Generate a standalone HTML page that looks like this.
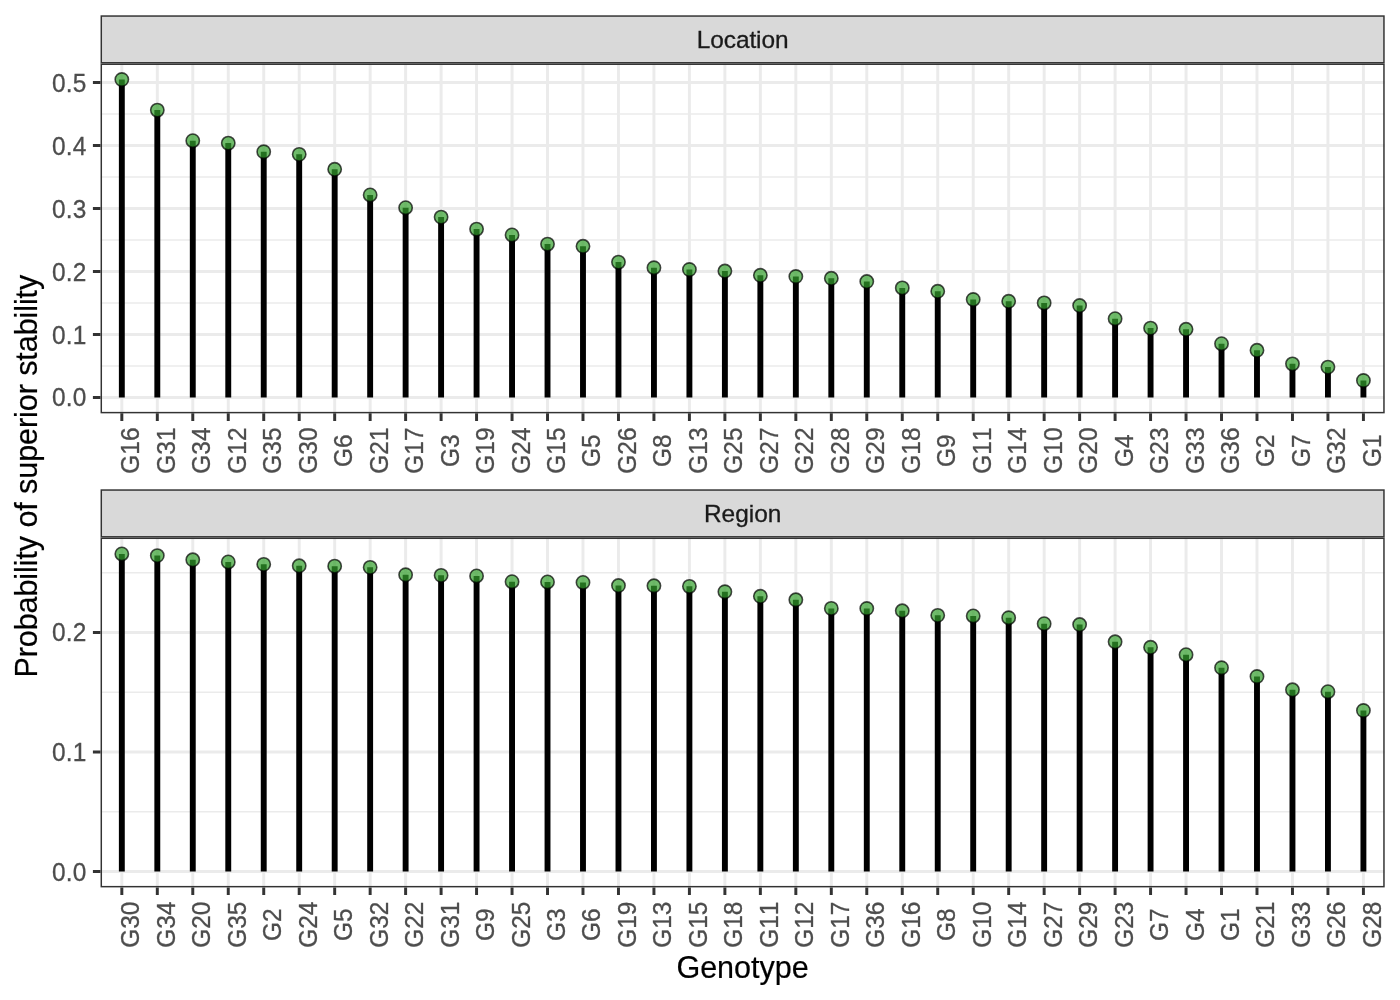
<!DOCTYPE html>
<html><head><meta charset="utf-8"><title>Probability of superior stability</title>
<style>html,body{margin:0;padding:0;background:#fff}body{width:1400px;height:1000px;overflow:hidden}svg{display:block;will-change:transform}text{font-family:"Liberation Sans",sans-serif;font-kerning:none}</style>
</head><body>
<svg width="1400" height="1000" viewBox="0 0 1400 1000">
<rect x="0" y="0" width="1400" height="1000" fill="#ffffff"/>
<clipPath id="cp1"><rect x="100.55" y="63.5" width="1284.15" height="349.85"/></clipPath>
<g clip-path="url(#cp1)">
<rect x="100.55" y="63.5" width="1284.15" height="349.85" fill="#ffffff"/>
<path d="M100.55 365.27H1384.7V366.75H100.55ZM100.55 302.29H1384.7V303.77H100.55ZM100.55 239.31H1384.7V240.79H100.55ZM100.55 176.33H1384.7V177.81H100.55ZM100.55 113.35H1384.7V114.83H100.55Z" fill="#ebebeb"/>
<path d="M100.55 396.02H1384.7V398.98H100.55ZM100.55 333.04H1384.7V336H100.55ZM100.55 270.06H1384.7V273.02H100.55ZM100.55 207.08H1384.7V210.04H100.55ZM100.55 144.1H1384.7V147.06H100.55ZM100.55 81.12H1384.7V84.08H100.55Z" fill="#ebebeb"/>
<path d="M120.35 63.5H123.31V413.35H120.35ZM155.83 63.5H158.79V413.35H155.83ZM191.3 63.5H194.26V413.35H191.3ZM226.78 63.5H229.74V413.35H226.78ZM262.25 63.5H265.21V413.35H262.25ZM297.72 63.5H300.68V413.35H297.72ZM333.2 63.5H336.16V413.35H333.2ZM368.67 63.5H371.63V413.35H368.67ZM404.14 63.5H407.1V413.35H404.14ZM439.62 63.5H442.58V413.35H439.62ZM475.09 63.5H478.05V413.35H475.09ZM510.57 63.5H513.53V413.35H510.57ZM546.04 63.5H549V413.35H546.04ZM581.51 63.5H584.47V413.35H581.51ZM616.99 63.5H619.95V413.35H616.99ZM652.46 63.5H655.42V413.35H652.46ZM687.93 63.5H690.89V413.35H687.93ZM723.41 63.5H726.37V413.35H723.41ZM758.88 63.5H761.84V413.35H758.88ZM794.36 63.5H797.32V413.35H794.36ZM829.83 63.5H832.79V413.35H829.83ZM865.3 63.5H868.26V413.35H865.3ZM900.78 63.5H903.74V413.35H900.78ZM936.25 63.5H939.21V413.35H936.25ZM971.72 63.5H974.68V413.35H971.72ZM1007.2 63.5H1010.16V413.35H1007.2ZM1042.67 63.5H1045.63V413.35H1042.67ZM1078.15 63.5H1081.11V413.35H1078.15ZM1113.62 63.5H1116.58V413.35H1113.62ZM1149.09 63.5H1152.05V413.35H1149.09ZM1184.57 63.5H1187.53V413.35H1184.57ZM1220.04 63.5H1223V413.35H1220.04ZM1255.51 63.5H1258.47V413.35H1255.51ZM1290.99 63.5H1293.95V413.35H1290.99ZM1326.46 63.5H1329.42V413.35H1326.46ZM1361.94 63.5H1364.9V413.35H1361.94Z" fill="#ebebeb"/>
<path d="M118.88 79.49H124.78V397.5H118.88ZM154.36 110.11H160.26V397.5H154.36ZM189.83 140.72H195.73V397.5H189.83ZM225.31 143.12H231.21V397.5H225.31ZM260.78 151.75H266.68V397.5H260.78ZM296.25 154.33H302.15V397.5H296.25ZM331.73 169.32H337.63V397.5H331.73ZM367.2 194.97H373.1V397.5H367.2ZM402.67 207.69H408.57V397.5H402.67ZM438.15 217.08H444.05V397.5H438.15ZM473.62 229.11H479.52V397.5H473.62ZM509.1 234.91H515V397.5H509.1ZM544.57 244.11H550.47V397.5H544.57ZM580.04 246.31H585.94V397.5H580.04ZM615.52 262.12H621.42V397.5H615.52ZM650.99 267.73H656.89V397.5H650.99ZM686.46 269.5H692.36V397.5H686.46ZM721.94 271.07H727.84V397.5H721.94ZM757.41 275.29H763.31V397.5H757.41ZM792.89 276.49H798.79V397.5H792.89ZM828.36 278.32H834.26V397.5H828.36ZM863.83 281.53H869.73V397.5H863.83ZM899.31 287.89H905.21V397.5H899.31ZM934.78 291.29H940.68V397.5H934.78ZM970.25 299.48H976.15V397.5H970.25ZM1005.73 301.31H1011.63V397.5H1005.73ZM1041.2 302.89H1047.1V397.5H1041.2ZM1076.68 305.53H1082.58V397.5H1076.68ZM1112.15 318.7H1118.05V397.5H1112.15ZM1147.62 328.09H1153.52V397.5H1147.62ZM1183.1 329.28H1189V397.5H1183.1ZM1218.57 343.71H1224.47V397.5H1218.57ZM1254.04 350.32H1259.94V397.5H1254.04ZM1289.52 363.87H1295.42V397.5H1289.52ZM1324.99 367.08H1330.89V397.5H1324.99ZM1360.47 380.5H1366.37V397.5H1360.47Z" fill="#000000"/>
<g fill="#33a02c" fill-opacity="0.7" stroke="#000000" stroke-opacity="0.7" stroke-width="1.6">
<circle cx="121.83" cy="79.49" r="6.65"/>
<circle cx="157.31" cy="110.11" r="6.65"/>
<circle cx="192.78" cy="140.72" r="6.65"/>
<circle cx="228.26" cy="143.12" r="6.65"/>
<circle cx="263.73" cy="151.75" r="6.65"/>
<circle cx="299.2" cy="154.33" r="6.65"/>
<circle cx="334.68" cy="169.32" r="6.65"/>
<circle cx="370.15" cy="194.97" r="6.65"/>
<circle cx="405.62" cy="207.69" r="6.65"/>
<circle cx="441.1" cy="217.08" r="6.65"/>
<circle cx="476.57" cy="229.11" r="6.65"/>
<circle cx="512.05" cy="234.91" r="6.65"/>
<circle cx="547.52" cy="244.11" r="6.65"/>
<circle cx="582.99" cy="246.31" r="6.65"/>
<circle cx="618.47" cy="262.12" r="6.65"/>
<circle cx="653.94" cy="267.73" r="6.65"/>
<circle cx="689.41" cy="269.5" r="6.65"/>
<circle cx="724.89" cy="271.07" r="6.65"/>
<circle cx="760.36" cy="275.29" r="6.65"/>
<circle cx="795.84" cy="276.49" r="6.65"/>
<circle cx="831.31" cy="278.32" r="6.65"/>
<circle cx="866.78" cy="281.53" r="6.65"/>
<circle cx="902.26" cy="287.89" r="6.65"/>
<circle cx="937.73" cy="291.29" r="6.65"/>
<circle cx="973.2" cy="299.48" r="6.65"/>
<circle cx="1008.68" cy="301.31" r="6.65"/>
<circle cx="1044.15" cy="302.89" r="6.65"/>
<circle cx="1079.63" cy="305.53" r="6.65"/>
<circle cx="1115.1" cy="318.7" r="6.65"/>
<circle cx="1150.57" cy="328.09" r="6.65"/>
<circle cx="1186.05" cy="329.28" r="6.65"/>
<circle cx="1221.52" cy="343.71" r="6.65"/>
<circle cx="1256.99" cy="350.32" r="6.65"/>
<circle cx="1292.47" cy="363.87" r="6.65"/>
<circle cx="1327.94" cy="367.08" r="6.65"/>
<circle cx="1363.42" cy="380.5" r="6.65"/>
</g>
</g>
<rect x="101.29" y="64.24" width="1282.67" height="348.37" fill="none" stroke="#333333" stroke-width="1.48"/>
<rect x="101.29" y="16.04" width="1282.67" height="46.72" fill="#d9d9d9" stroke="#333333" stroke-width="1.48"/>
<path d="M92.91 396.02H100.55V398.98H92.91ZM92.91 333.04H100.55V336H92.91ZM92.91 270.06H100.55V273.02H92.91ZM92.91 207.08H100.55V210.04H92.91ZM92.91 144.1H100.55V147.06H92.91ZM92.91 81.12H100.55V84.08H92.91ZM120.35 413.35H123.31V420.99H120.35ZM155.83 413.35H158.79V420.99H155.83ZM191.3 413.35H194.26V420.99H191.3ZM226.78 413.35H229.74V420.99H226.78ZM262.25 413.35H265.21V420.99H262.25ZM297.72 413.35H300.68V420.99H297.72ZM333.2 413.35H336.16V420.99H333.2ZM368.67 413.35H371.63V420.99H368.67ZM404.14 413.35H407.1V420.99H404.14ZM439.62 413.35H442.58V420.99H439.62ZM475.09 413.35H478.05V420.99H475.09ZM510.57 413.35H513.53V420.99H510.57ZM546.04 413.35H549V420.99H546.04ZM581.51 413.35H584.47V420.99H581.51ZM616.99 413.35H619.95V420.99H616.99ZM652.46 413.35H655.42V420.99H652.46ZM687.93 413.35H690.89V420.99H687.93ZM723.41 413.35H726.37V420.99H723.41ZM758.88 413.35H761.84V420.99H758.88ZM794.36 413.35H797.32V420.99H794.36ZM829.83 413.35H832.79V420.99H829.83ZM865.3 413.35H868.26V420.99H865.3ZM900.78 413.35H903.74V420.99H900.78ZM936.25 413.35H939.21V420.99H936.25ZM971.72 413.35H974.68V420.99H971.72ZM1007.2 413.35H1010.16V420.99H1007.2ZM1042.67 413.35H1045.63V420.99H1042.67ZM1078.15 413.35H1081.11V420.99H1078.15ZM1113.62 413.35H1116.58V420.99H1113.62ZM1149.09 413.35H1152.05V420.99H1149.09ZM1184.57 413.35H1187.53V420.99H1184.57ZM1220.04 413.35H1223V420.99H1220.04ZM1255.51 413.35H1258.47V420.99H1255.51ZM1290.99 413.35H1293.95V420.99H1290.99ZM1326.46 413.35H1329.42V420.99H1326.46ZM1361.94 413.35H1364.9V420.99H1361.94Z" fill="#333333"/>
<g font-size="24.44" fill="#4d4d4d" stroke="#4d4d4d" stroke-width="0.3" text-anchor="end" letter-spacing="0.25">
<text transform="translate(86.7 405.6) scale(1 1.02)">0.0</text>
<text transform="translate(86.7 343.6) scale(1 1.02)">0.1</text>
<text transform="translate(86.7 280.6) scale(1 1.02)">0.2</text>
<text transform="translate(86.7 217.6) scale(1 1.02)">0.3</text>
<text transform="translate(86.7 154.6) scale(1 1.02)">0.4</text>
<text transform="translate(86.7 91.6) scale(1 1.02)">0.5</text>
</g>
<g font-size="24.44" fill="#4d4d4d" stroke="#4d4d4d" stroke-width="0.3" text-anchor="middle">
<text transform="translate(139.33 450.6) rotate(-90) scale(1 1.04)">G16</text>
<text transform="translate(174.81 450.6) rotate(-90) scale(1 1.04)">G31</text>
<text transform="translate(210.28 450.6) rotate(-90) scale(1 1.04)">G34</text>
<text transform="translate(245.76 450.6) rotate(-90) scale(1 1.04)">G12</text>
<text transform="translate(281.23 450.6) rotate(-90) scale(1 1.04)">G35</text>
<text transform="translate(316.7 450.6) rotate(-90) scale(1 1.04)">G30</text>
<text transform="translate(352.18 450.6) rotate(-90) scale(1 1.04)">G6</text>
<text transform="translate(387.65 450.6) rotate(-90) scale(1 1.04)">G21</text>
<text transform="translate(423.12 450.6) rotate(-90) scale(1 1.04)">G17</text>
<text transform="translate(458.6 450.6) rotate(-90) scale(1 1.04)">G3</text>
<text transform="translate(494.07 450.6) rotate(-90) scale(1 1.04)">G19</text>
<text transform="translate(529.55 450.6) rotate(-90) scale(1 1.04)">G24</text>
<text transform="translate(565.02 450.6) rotate(-90) scale(1 1.04)">G15</text>
<text transform="translate(600.49 450.6) rotate(-90) scale(1 1.04)">G5</text>
<text transform="translate(635.97 450.6) rotate(-90) scale(1 1.04)">G26</text>
<text transform="translate(671.44 450.6) rotate(-90) scale(1 1.04)">G8</text>
<text transform="translate(706.91 450.6) rotate(-90) scale(1 1.04)">G13</text>
<text transform="translate(742.39 450.6) rotate(-90) scale(1 1.04)">G25</text>
<text transform="translate(777.86 450.6) rotate(-90) scale(1 1.04)">G27</text>
<text transform="translate(813.34 450.6) rotate(-90) scale(1 1.04)">G22</text>
<text transform="translate(848.81 450.6) rotate(-90) scale(1 1.04)">G28</text>
<text transform="translate(884.28 450.6) rotate(-90) scale(1 1.04)">G29</text>
<text transform="translate(919.76 450.6) rotate(-90) scale(1 1.04)">G18</text>
<text transform="translate(955.23 450.6) rotate(-90) scale(1 1.04)">G9</text>
<text transform="translate(990.7 450.6) rotate(-90) scale(1 1.04)">G11</text>
<text transform="translate(1026.18 450.6) rotate(-90) scale(1 1.04)">G14</text>
<text transform="translate(1061.65 450.6) rotate(-90) scale(1 1.04)">G10</text>
<text transform="translate(1097.13 450.6) rotate(-90) scale(1 1.04)">G20</text>
<text transform="translate(1132.6 450.6) rotate(-90) scale(1 1.04)">G4</text>
<text transform="translate(1168.07 450.6) rotate(-90) scale(1 1.04)">G23</text>
<text transform="translate(1203.55 450.6) rotate(-90) scale(1 1.04)">G33</text>
<text transform="translate(1239.02 450.6) rotate(-90) scale(1 1.04)">G36</text>
<text transform="translate(1274.49 450.6) rotate(-90) scale(1 1.04)">G2</text>
<text transform="translate(1309.97 450.6) rotate(-90) scale(1 1.04)">G7</text>
<text transform="translate(1345.44 450.6) rotate(-90) scale(1 1.04)">G32</text>
<text transform="translate(1380.92 450.6) rotate(-90) scale(1 1.04)">G1</text>
</g>
<clipPath id="cp2"><rect x="100.55" y="537.55" width="1284.15" height="349.85"/></clipPath>
<g clip-path="url(#cp2)">
<rect x="100.55" y="537.55" width="1284.15" height="349.85" fill="#ffffff"/>
<path d="M100.55 811.01H1384.7V812.49H100.55ZM100.55 691.51H1384.7V692.99H100.55ZM100.55 572.01H1384.7V573.49H100.55Z" fill="#ebebeb"/>
<path d="M100.55 870.02H1384.7V872.98H100.55ZM100.55 750.52H1384.7V753.48H100.55ZM100.55 631.02H1384.7V633.98H100.55Z" fill="#ebebeb"/>
<path d="M120.35 537.55H123.31V887.4H120.35ZM155.83 537.55H158.79V887.4H155.83ZM191.3 537.55H194.26V887.4H191.3ZM226.78 537.55H229.74V887.4H226.78ZM262.25 537.55H265.21V887.4H262.25ZM297.72 537.55H300.68V887.4H297.72ZM333.2 537.55H336.16V887.4H333.2ZM368.67 537.55H371.63V887.4H368.67ZM404.14 537.55H407.1V887.4H404.14ZM439.62 537.55H442.58V887.4H439.62ZM475.09 537.55H478.05V887.4H475.09ZM510.57 537.55H513.53V887.4H510.57ZM546.04 537.55H549V887.4H546.04ZM581.51 537.55H584.47V887.4H581.51ZM616.99 537.55H619.95V887.4H616.99ZM652.46 537.55H655.42V887.4H652.46ZM687.93 537.55H690.89V887.4H687.93ZM723.41 537.55H726.37V887.4H723.41ZM758.88 537.55H761.84V887.4H758.88ZM794.36 537.55H797.32V887.4H794.36ZM829.83 537.55H832.79V887.4H829.83ZM865.3 537.55H868.26V887.4H865.3ZM900.78 537.55H903.74V887.4H900.78ZM936.25 537.55H939.21V887.4H936.25ZM971.72 537.55H974.68V887.4H971.72ZM1007.2 537.55H1010.16V887.4H1007.2ZM1042.67 537.55H1045.63V887.4H1042.67ZM1078.15 537.55H1081.11V887.4H1078.15ZM1113.62 537.55H1116.58V887.4H1113.62ZM1149.09 537.55H1152.05V887.4H1149.09ZM1184.57 537.55H1187.53V887.4H1184.57ZM1220.04 537.55H1223V887.4H1220.04ZM1255.51 537.55H1258.47V887.4H1255.51ZM1290.99 537.55H1293.95V887.4H1290.99ZM1326.46 537.55H1329.42V887.4H1326.46ZM1361.94 537.55H1364.9V887.4H1361.94Z" fill="#ebebeb"/>
<path d="M118.88 553.93H124.78V871.5H118.88ZM154.36 555.6H160.26V871.5H154.36ZM189.83 559.79H195.73V871.5H189.83ZM225.31 561.95H231.21V871.5H225.31ZM260.78 564.34H266.68V871.5H260.78ZM296.25 565.78H302.15V871.5H296.25ZM331.73 566.14H337.63V871.5H331.73ZM367.2 567.33H373.1V871.5H367.2ZM402.67 574.75H408.57V871.5H402.67ZM438.15 575.35H444.05V871.5H438.15ZM473.62 575.95H479.52V871.5H473.62ZM509.1 581.7H515V871.5H509.1ZM544.57 581.94H550.47V871.5H544.57ZM580.04 582.42H585.94V871.5H580.04ZM615.52 585.53H621.42V871.5H615.52ZM650.99 585.77H656.89V871.5H650.99ZM686.46 586.37H692.36V871.5H686.46ZM721.94 591.75H727.84V871.5H721.94ZM757.41 596.3H763.31V871.5H757.41ZM792.89 599.77H798.79V871.5H792.89ZM828.36 608.39H834.26V871.5H828.36ZM863.83 608.51H869.73V871.5H863.83ZM899.31 610.78H905.21V871.5H899.31ZM934.78 615.33H940.68V871.5H934.78ZM970.25 615.93H976.15V871.5H970.25ZM1005.73 617.73H1011.63V871.5H1005.73ZM1041.2 623.71H1047.1V871.5H1041.2ZM1076.68 624.55H1082.58V871.5H1076.68ZM1112.15 641.79H1118.05V871.5H1112.15ZM1147.62 647.29H1153.52V871.5H1147.62ZM1183.1 654.71H1189V871.5H1183.1ZM1218.57 667.76H1224.47V871.5H1218.57ZM1254.04 676.5H1259.94V871.5H1254.04ZM1289.52 689.79H1295.42V871.5H1289.52ZM1324.99 691.7H1330.89V871.5H1324.99ZM1360.47 710.49H1366.37V871.5H1360.47Z" fill="#000000"/>
<g fill="#33a02c" fill-opacity="0.7" stroke="#000000" stroke-opacity="0.7" stroke-width="1.6">
<circle cx="121.83" cy="553.93" r="6.65"/>
<circle cx="157.31" cy="555.6" r="6.65"/>
<circle cx="192.78" cy="559.79" r="6.65"/>
<circle cx="228.26" cy="561.95" r="6.65"/>
<circle cx="263.73" cy="564.34" r="6.65"/>
<circle cx="299.2" cy="565.78" r="6.65"/>
<circle cx="334.68" cy="566.14" r="6.65"/>
<circle cx="370.15" cy="567.33" r="6.65"/>
<circle cx="405.62" cy="574.75" r="6.65"/>
<circle cx="441.1" cy="575.35" r="6.65"/>
<circle cx="476.57" cy="575.95" r="6.65"/>
<circle cx="512.05" cy="581.7" r="6.65"/>
<circle cx="547.52" cy="581.94" r="6.65"/>
<circle cx="582.99" cy="582.42" r="6.65"/>
<circle cx="618.47" cy="585.53" r="6.65"/>
<circle cx="653.94" cy="585.77" r="6.65"/>
<circle cx="689.41" cy="586.37" r="6.65"/>
<circle cx="724.89" cy="591.75" r="6.65"/>
<circle cx="760.36" cy="596.3" r="6.65"/>
<circle cx="795.84" cy="599.77" r="6.65"/>
<circle cx="831.31" cy="608.39" r="6.65"/>
<circle cx="866.78" cy="608.51" r="6.65"/>
<circle cx="902.26" cy="610.78" r="6.65"/>
<circle cx="937.73" cy="615.33" r="6.65"/>
<circle cx="973.2" cy="615.93" r="6.65"/>
<circle cx="1008.68" cy="617.73" r="6.65"/>
<circle cx="1044.15" cy="623.71" r="6.65"/>
<circle cx="1079.63" cy="624.55" r="6.65"/>
<circle cx="1115.1" cy="641.79" r="6.65"/>
<circle cx="1150.57" cy="647.29" r="6.65"/>
<circle cx="1186.05" cy="654.71" r="6.65"/>
<circle cx="1221.52" cy="667.76" r="6.65"/>
<circle cx="1256.99" cy="676.5" r="6.65"/>
<circle cx="1292.47" cy="689.79" r="6.65"/>
<circle cx="1327.94" cy="691.7" r="6.65"/>
<circle cx="1363.42" cy="710.49" r="6.65"/>
</g>
</g>
<rect x="101.29" y="538.29" width="1282.67" height="348.37" fill="none" stroke="#333333" stroke-width="1.48"/>
<rect x="101.29" y="490.04" width="1282.67" height="46.77" fill="#d9d9d9" stroke="#333333" stroke-width="1.48"/>
<path d="M92.91 870.02H100.55V872.98H92.91ZM92.91 750.52H100.55V753.48H92.91ZM92.91 631.02H100.55V633.98H92.91ZM120.35 887.4H123.31V895.04H120.35ZM155.83 887.4H158.79V895.04H155.83ZM191.3 887.4H194.26V895.04H191.3ZM226.78 887.4H229.74V895.04H226.78ZM262.25 887.4H265.21V895.04H262.25ZM297.72 887.4H300.68V895.04H297.72ZM333.2 887.4H336.16V895.04H333.2ZM368.67 887.4H371.63V895.04H368.67ZM404.14 887.4H407.1V895.04H404.14ZM439.62 887.4H442.58V895.04H439.62ZM475.09 887.4H478.05V895.04H475.09ZM510.57 887.4H513.53V895.04H510.57ZM546.04 887.4H549V895.04H546.04ZM581.51 887.4H584.47V895.04H581.51ZM616.99 887.4H619.95V895.04H616.99ZM652.46 887.4H655.42V895.04H652.46ZM687.93 887.4H690.89V895.04H687.93ZM723.41 887.4H726.37V895.04H723.41ZM758.88 887.4H761.84V895.04H758.88ZM794.36 887.4H797.32V895.04H794.36ZM829.83 887.4H832.79V895.04H829.83ZM865.3 887.4H868.26V895.04H865.3ZM900.78 887.4H903.74V895.04H900.78ZM936.25 887.4H939.21V895.04H936.25ZM971.72 887.4H974.68V895.04H971.72ZM1007.2 887.4H1010.16V895.04H1007.2ZM1042.67 887.4H1045.63V895.04H1042.67ZM1078.15 887.4H1081.11V895.04H1078.15ZM1113.62 887.4H1116.58V895.04H1113.62ZM1149.09 887.4H1152.05V895.04H1149.09ZM1184.57 887.4H1187.53V895.04H1184.57ZM1220.04 887.4H1223V895.04H1220.04ZM1255.51 887.4H1258.47V895.04H1255.51ZM1290.99 887.4H1293.95V895.04H1290.99ZM1326.46 887.4H1329.42V895.04H1326.46ZM1361.94 887.4H1364.9V895.04H1361.94Z" fill="#333333"/>
<g font-size="24.44" fill="#4d4d4d" stroke="#4d4d4d" stroke-width="0.3" text-anchor="end" letter-spacing="0.25">
<text transform="translate(86.7 880.6) scale(1 1.02)">0.0</text>
<text transform="translate(86.7 760.6) scale(1 1.02)">0.1</text>
<text transform="translate(86.7 640.6) scale(1 1.02)">0.2</text>
</g>
<g font-size="24.44" fill="#4d4d4d" stroke="#4d4d4d" stroke-width="0.3" text-anchor="middle">
<text transform="translate(139.33 924.65) rotate(-90) scale(1 1.04)">G30</text>
<text transform="translate(174.81 924.65) rotate(-90) scale(1 1.04)">G34</text>
<text transform="translate(210.28 924.65) rotate(-90) scale(1 1.04)">G20</text>
<text transform="translate(245.76 924.65) rotate(-90) scale(1 1.04)">G35</text>
<text transform="translate(281.23 924.65) rotate(-90) scale(1 1.04)">G2</text>
<text transform="translate(316.7 924.65) rotate(-90) scale(1 1.04)">G24</text>
<text transform="translate(352.18 924.65) rotate(-90) scale(1 1.04)">G5</text>
<text transform="translate(387.65 924.65) rotate(-90) scale(1 1.04)">G32</text>
<text transform="translate(423.12 924.65) rotate(-90) scale(1 1.04)">G22</text>
<text transform="translate(458.6 924.65) rotate(-90) scale(1 1.04)">G31</text>
<text transform="translate(494.07 924.65) rotate(-90) scale(1 1.04)">G9</text>
<text transform="translate(529.55 924.65) rotate(-90) scale(1 1.04)">G25</text>
<text transform="translate(565.02 924.65) rotate(-90) scale(1 1.04)">G3</text>
<text transform="translate(600.49 924.65) rotate(-90) scale(1 1.04)">G6</text>
<text transform="translate(635.97 924.65) rotate(-90) scale(1 1.04)">G19</text>
<text transform="translate(671.44 924.65) rotate(-90) scale(1 1.04)">G13</text>
<text transform="translate(706.91 924.65) rotate(-90) scale(1 1.04)">G15</text>
<text transform="translate(742.39 924.65) rotate(-90) scale(1 1.04)">G18</text>
<text transform="translate(777.86 924.65) rotate(-90) scale(1 1.04)">G11</text>
<text transform="translate(813.34 924.65) rotate(-90) scale(1 1.04)">G12</text>
<text transform="translate(848.81 924.65) rotate(-90) scale(1 1.04)">G17</text>
<text transform="translate(884.28 924.65) rotate(-90) scale(1 1.04)">G36</text>
<text transform="translate(919.76 924.65) rotate(-90) scale(1 1.04)">G16</text>
<text transform="translate(955.23 924.65) rotate(-90) scale(1 1.04)">G8</text>
<text transform="translate(990.7 924.65) rotate(-90) scale(1 1.04)">G10</text>
<text transform="translate(1026.18 924.65) rotate(-90) scale(1 1.04)">G14</text>
<text transform="translate(1061.65 924.65) rotate(-90) scale(1 1.04)">G27</text>
<text transform="translate(1097.13 924.65) rotate(-90) scale(1 1.04)">G29</text>
<text transform="translate(1132.6 924.65) rotate(-90) scale(1 1.04)">G23</text>
<text transform="translate(1168.07 924.65) rotate(-90) scale(1 1.04)">G7</text>
<text transform="translate(1203.55 924.65) rotate(-90) scale(1 1.04)">G4</text>
<text transform="translate(1239.02 924.65) rotate(-90) scale(1 1.04)">G1</text>
<text transform="translate(1274.49 924.65) rotate(-90) scale(1 1.04)">G21</text>
<text transform="translate(1309.97 924.65) rotate(-90) scale(1 1.04)">G33</text>
<text transform="translate(1345.44 924.65) rotate(-90) scale(1 1.04)">G26</text>
<text transform="translate(1380.92 924.65) rotate(-90) scale(1 1.04)">G28</text>
</g>
<g font-size="24.44" fill="#1a1a1a" stroke="#1a1a1a" stroke-width="0.3" text-anchor="middle">
<text x="742.62" y="47.7" letter-spacing="-0.1">Location</text>
<text x="742.62" y="521.75">Region</text>
</g>
<g font-size="30.56" fill="#000000" stroke="#000000" stroke-width="0.2" text-anchor="middle">
<text x="742.62" y="977.6">Genotype</text>
<text transform="translate(37 476.2) rotate(-90)" letter-spacing="-0.09">Probability of superior stability</text>
</g>
</svg></body></html>
